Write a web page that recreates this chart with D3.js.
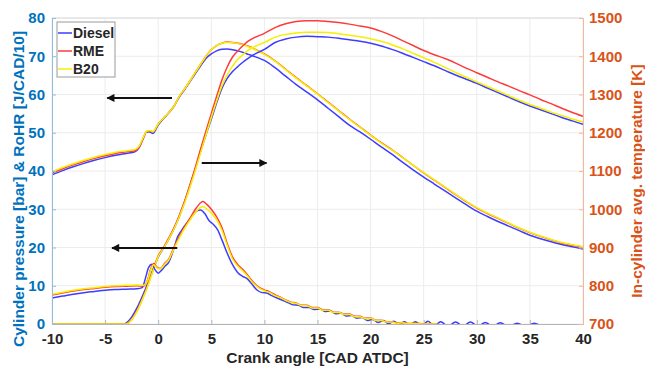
<!DOCTYPE html>
<html>
<head>
<meta charset="utf-8">
<script src="https://cdn.jsdelivr.net/npm/d3@7"></script>
<style>
body { margin: 0; background: #fff; }
text { font-family: "Liberation Sans", Arial, sans-serif; font-weight: bold; }
</style>
</head>
<body>
<script>
// crank angle [CAD ATDC], value pairs
let pressureDiesel = [[-10,39],[-9,40.1],[-8,41.1],[-7,42],[-6,42.8],[-5,43.5],[-4,44.1],[-3,44.6],[-2.2,45],[-1.8,46.1],[-1.4,48.6],[-1.1,50.2],[-0.8,50.2],[-0.5,49.8],[0,52],[0.5,53.7],[1,55.2],[1.5,57],[2,59.4],[2.5,61.3],[3,63.4],[3.5,65.5],[4,67.5],[4.5,69.4],[5,70.6],[5.5,71.4],[6,71.8],[6.5,71.9],[7,71.7],[7.5,71.4],[8,71],[8.5,70.5],[9,70],[9.5,69.5],[10,68.9],[11,67],[12,64.8],[13,62.6],[14,60.6],[15,58.6],[16,56.4],[17,54.2],[18,52],[19,50.2],[20,48.3],[21,46.3],[22,44.4],[23,42.3],[24,40.3],[25,38.4],[26,36.6],[27,34.8],[28,33],[29,31.2],[30,29.5],[31,28.1],[32,26.8],[33,25.6],[34,24.4],[35,23.2],[36,22.3],[37,21.5],[38,20.8],[39,20.2],[40,19.6]];
let pressureRME = [[-10,39.5],[-9,40.6],[-8,41.6],[-7,42.5],[-6,43.3],[-5,44],[-4,44.6],[-3,45],[-2.2,45.3],[-1.8,46.2],[-1.4,48.6],[-1.1,50.3],[-0.8,50.5],[-0.5,50.2],[0,52.3],[0.5,53.8],[1,55.3],[1.5,57],[2,59.6],[2.5,61.5],[3,63.6],[3.5,65.8],[4,67.9],[4.5,70],[5,71.7],[5.5,72.8],[6,73.4],[6.5,73.7],[7,73.6],[7.5,73.4],[8,73.1],[8.5,72.6],[9,72],[9.5,71.3],[10,70.6],[11,68.8],[12,66.6],[13,64.4],[14,62.3],[15,60.2],[16,58],[17,55.8],[18,53.6],[19,51.5],[20,49.4],[21,47.4],[22,45.6],[23,43.6],[24,41.5],[25,39.5],[26,37.6],[27,35.7],[28,33.8],[29,32],[30,30.3],[31,28.9],[32,27.6],[33,26.3],[34,25],[35,23.9],[36,22.9],[37,22],[38,21.2],[39,20.6],[40,20.1]];
let pressureB20 = [[-10,39.8],[-9,40.9],[-8,41.9],[-7,42.8],[-6,43.6],[-5,44.3],[-4,44.9],[-3,45.3],[-2.2,45.6],[-1.8,46.5],[-1.4,48.8],[-1.1,50.4],[-0.8,50.6],[-0.5,50.3],[0,52.3],[0.5,53.8],[1,55.3],[1.5,57],[2,59.6],[2.5,61.5],[3,63.6],[3.5,65.8],[4,67.9],[4.5,70],[5,71.7],[5.5,72.8],[6,73.4],[6.5,73.6],[7,73.5],[7.5,73.3],[8,73],[8.5,72.5],[9,71.9],[9.5,71.2],[10,70.5],[11,68.7],[12,66.5],[13,64.3],[14,62.2],[15,60.1],[16,57.9],[17,55.7],[18,53.5],[19,51.4],[20,49.3],[21,47.3],[22,45.5],[23,43.5],[24,41.5],[25,39.6],[26,37.7],[27,35.8],[28,33.9],[29,32.1],[30,30.4],[31,29],[32,27.7],[33,26.4],[34,25.1],[35,24],[36,23],[37,22.1],[38,21.3],[39,20.7],[40,20.2]];

let tempDiesel = [[-10,700],[-3.3,700],[-2.5,718],[-2,742],[-1.5,772],[-1,805],[-0.5,842],[0,875],[0.5,898],[1,922],[1.5,950],[2,982],[2.5,1020],[3,1062],[3.5,1106],[4,1152],[4.5,1195],[5,1235],[5.5,1278],[6,1316],[6.5,1342],[7,1360],[7.5,1373],[8,1385],[8.5,1395],[9,1404],[10,1418],[11,1436],[12,1445],[13,1450],[14,1452],[15,1451],[16,1450],[17,1447],[18,1443],[19,1439],[20,1434],[21,1427],[22,1418],[23,1408],[24,1397],[25,1386],[26,1375],[27,1363],[28,1351],[29,1340],[30,1329],[31,1317],[32,1305],[33,1293],[34,1281],[35,1270],[36,1260],[37,1250],[38,1240],[39,1231],[40,1222]];
let tempRME = [[-10,700],[-3,700],[-2.5,712],[-2,735],[-1.5,765],[-1,800],[-0.5,840],[0,878],[0.5,900],[1,925],[1.5,952],[2,985],[2.5,1022],[3,1065],[3.5,1110],[4,1158],[4.5,1205],[5,1250],[5.5,1295],[6,1338],[6.5,1372],[7,1398],[7.5,1414],[8,1428],[8.5,1440],[9,1448],[10,1460],[11,1475],[12,1485],[13,1491],[14,1493],[15,1493],[16,1491],[17,1488],[18,1484],[19,1479],[20,1474],[21,1465],[22,1454],[23,1441],[24,1428],[25,1415],[26,1404],[27,1394],[28,1382],[29,1369],[30,1357],[31,1345],[32,1333],[33,1322],[34,1310],[35,1299],[36,1287],[37,1276],[38,1264],[39,1253],[40,1243]];
let tempB20 = [[-10,700],[-3,700],[-2.5,711],[-2,733],[-1.5,763],[-1,798],[-0.5,838],[0,876],[0.5,898],[1,922],[1.5,949],[2,981],[2.5,1017],[3,1058],[3.5,1102],[4,1148],[4.5,1195],[5,1240],[5.5,1283],[6,1322],[6.5,1352],[7,1374],[7.5,1392],[8,1405],[8.5,1416],[9,1424],[10,1436],[11,1450],[12,1457],[13,1461],[14,1463],[15,1463],[16,1462],[17,1459],[18,1455],[19,1451],[20,1446],[21,1439],[22,1430],[23,1420],[24,1408],[25,1396],[26,1384],[27,1371],[28,1358],[29,1345],[30,1333],[31,1321],[32,1309],[33,1297],[34,1285],[35,1274],[36,1264],[37,1254],[38,1245],[39,1236],[40,1228]];

let rohrDiesel = [[-10,6.8],[-9,7.3],[-8,7.8],[-7,8.2],[-6,8.5],[-5,8.8],[-4,9],[-3,9.1],[-2,9.2],[-1.5,9.5],[-1.2,12],[-0.9,14.8],[-0.6,15.6],[-0.3,14.2],[0,13.3],[0.3,14],[0.6,15],[1,16.2],[1.4,19],[1.8,22.6],[2.2,24.5],[2.7,26.4],[3.2,28.2],[3.7,29.7],[4,29.8],[4.4,28.8],[4.8,27],[5.2,26],[5.6,24.6],[6,22],[6.5,18.5],[7,15.5],[7.5,13.4],[8,12.4],[8.4,11.8],[8.8,10.5],[9.3,8.9],[9.8,8.2],[10.2,8.1],[10.7,7.4],[11.2,6.8],[11.7,6.2],[12.2,5.6],[12.7,5],[13.2,4.9],[13.7,4.3],[14.2,4.3],[14.7,3.8],[15.2,3.9],[15.7,3.3],[16.2,3.4],[16.7,2.7],[17.2,2.8],[17.7,2.1],[18.2,2.2],[18.7,1.5],[19.2,1.7],[19.7,0.9],[20.2,1.2],[20.7,0.4],[21.2,0.9],[21.7,0.1],[22.2,0.7],[22.7,-0.1],[23.2,0.6],[23.7,-0.3],[24.2,0.6],[24.8,-0.4],[25.4,0.7],[26,-0.5],[26.6,0.6],[27.3,-0.6],[28,0.5],[28.7,-0.6],[29.4,0.5],[30.1,-0.6],[30.8,0.4],[31.5,-0.6],[32.2,0.3],[33,-0.6],[33.8,0.2],[34.6,-0.6],[35.4,0.2],[36.3,-0.6],[40,-0.6]];
let rohrRME = [[-10,7.6],[-9,8.1],[-8,8.6],[-7,9],[-6,9.3],[-5,9.6],[-4,9.8],[-3,9.9],[-2,10],[-1.4,9.9],[-1,11.5],[-0.7,14.5],[-0.4,15.8],[-0.1,14.8],[0.2,14.5],[0.6,15.8],[1,17],[1.4,19.5],[1.9,22.4],[2.4,25],[3,27.7],[3.5,30],[4,31.7],[4.2,32],[4.6,31.2],[5,30],[5.5,28],[6,25.2],[6.5,21],[7,17.5],[7.5,15.5],[8,14.2],[8.5,12.5],[9,10.8],[9.5,9.6],[10,8.9],[10.5,8.4],[11,7.6],[11.5,7],[12,6.3],[12.5,5.7],[13,5.5],[13.5,4.9],[14,4.9],[14.5,4.3],[15,4.3],[15.5,3.7],[16,3.7],[16.5,3.1],[17,3.1],[17.5,2.6],[18,2.6],[18.5,2],[19,2],[19.5,1.5],[20,1.6],[20.5,1],[21,1],[21.5,0.6],[22,0.6],[22.5,0.3],[23,0.4],[23.5,0.1],[24,0.2],[25,0.05],[26,0],[27,-0.5],[40,-0.5]];
let rohrB20 = [[-10,7.8],[-9,8.3],[-8,8.8],[-7,9.2],[-6,9.5],[-5,9.8],[-4,10],[-3,10.1],[-2,10.2],[-1.4,10.1],[-1,11.3],[-0.7,14.2],[-0.4,15.5],[-0.1,14.6],[0.2,14.4],[0.6,15.6],[1,16.8],[1.4,19.2],[1.9,22],[2.4,24.6],[3,27.2],[3.5,29.2],[4,30.5],[4.2,30.7],[4.6,30],[5,29],[5.5,27.3],[6,24.5],[6.5,20.5],[7,17],[7.5,15.1],[8,13.8],[8.5,12.2],[9,10.5],[9.5,9.4],[10,8.7],[10.5,8.2],[11,7.4],[11.5,6.9],[12,6.2],[12.5,5.6],[13,5.4],[13.5,4.8],[14,4.8],[14.5,4.2],[15,4.2],[15.5,3.6],[16,3.6],[16.5,3],[17,3],[17.5,2.5],[18,2.5],[18.5,1.9],[19,1.9],[19.5,1.4],[20,1.5],[20.5,0.9],[21,0.9],[21.5,0.5],[22,0.5],[22.5,0.2],[23,0.3],[23.5,0.05],[24,0.1],[25,0],[26,0],[27,-0.5],[40,-0.5]];

let fuels = ["Diesel", "RME", "B20"];
let colors = ["#3d3dff", "#ff3a3a", "#f6ef00"];
let xTicks = [-10, -5, 0, 5, 10, 15, 20, 25, 30, 35, 40];
let leftTicks = [0, 10, 20, 30, 40, 50, 60, 70, 80];
let rightTicks = [700, 800, 900, 1000, 1100, 1200, 1300, 1400, 1500];
// arrows: y value on left axis, start and end crank angle
let arrows = [[59.1, 1.3, -4.8], [42.1, 4.1, 10.2], [19.9, 1.8, -4.35]];

let margin = {top: 18, right: 62, bottom: 48, left: 52},
	width = 645 - margin.left - margin.right,
	height = 372 - margin.top - margin.bottom;

let leftColor = "#0072BD", rightColor = "#D95319", dark = "#262626";
let plain = d => String(d);

let x = d3.scaleLinear().domain([-10, 40]).range([0, width]),
	yL = d3.scaleLinear().domain([0, 80]).range([height, 0]),
	yR = d3.scaleLinear().domain([700, 1500]).range([height, 0]);

let svg = d3.select("body").append("svg")
	.attr("width", 645)
	.attr("height", 372);

let g = svg.append("g")
	.attr("transform", "translate(" + margin.left + "," + margin.top + ")");

g.append("defs").append("clipPath").attr("id", "clip")
	.append("rect").attr("width", width).attr("height", height);

// grid
g.selectAll(".vg").data(xTicks).enter().append("line")
	.attr("x1", d => x(d)).attr("x2", d => x(d))
	.attr("y1", 0).attr("y2", height)
	.attr("stroke", "#ececec");
g.selectAll(".hg").data(leftTicks).enter().append("line")
	.attr("x1", 0).attr("x2", width)
	.attr("y1", d => yL(d)).attr("y2", d => yL(d))
	.attr("stroke", "#ececec");
g.append("line").attr("x1", 0).attr("x2", width).attr("y1", 0).attr("y2", 0)
	.attr("stroke", "#dcdcdc");

// curves
let line = (sc) => d3.line().x(d => x(d[0])).y(d => sc(d[1])).curve(d3.curveMonotoneX);
let curves = g.append("g").attr("clip-path", "url(#clip)");
let groups = [
	[pressureDiesel, pressureRME, pressureB20, yL],
	[tempDiesel, tempRME, tempB20, yR],
	[rohrDiesel, rohrRME, rohrB20, yL]
];
groups.forEach(function(grp) {
	for (let i = 0; i < 3; i++) {
		curves.append("path")
			.datum(grp[i])
			.attr("fill", "none")
			.attr("stroke", colors[i])
			.attr("stroke-width", 1.5)
			.attr("d", line(grp[3]));
	}
});

// arrows
let defs = svg.append("defs");
defs.append("marker").attr("id", "head")
	.attr("viewBox", "0 0 10 10").attr("refX", 9).attr("refY", 5)
	.attr("markerWidth", 5).attr("markerHeight", 4).attr("orient", "auto")
	.attr("markerUnits", "strokeWidth")
	.append("path").attr("d", "M0,0L10,5L0,10z").attr("fill", "#111");
g.selectAll(".arrow").data(arrows).enter().append("line")
	.attr("x1", d => x(d[1])).attr("x2", d => x(d[2]))
	.attr("y1", d => yL(d[0])).attr("y2", d => yL(d[0]))
	.attr("stroke", "#111").attr("stroke-width", 2)
	.attr("marker-end", "url(#head)");

// axes
let xAxis = g.append("g").attr("transform", "translate(0," + height + ")")
	.call(d3.axisBottom(x).tickValues(xTicks).tickFormat(plain).tickSize(-4).tickPadding(9));
xAxis.select(".domain").attr("stroke", "#b5b5b5");
xAxis.selectAll(".tick line").attr("stroke", "#b5b5b5");
xAxis.selectAll("text").attr("fill", dark).style("font-size", "15px");

let lAxis = g.append("g")
	.call(d3.axisLeft(yL).tickValues(leftTicks).tickFormat(plain).tickSize(-4).tickPadding(7));
lAxis.select(".domain").attr("stroke", "#8fbde0");
lAxis.selectAll(".tick line").attr("stroke", "#8fbde0");
lAxis.selectAll("text").attr("fill", leftColor).style("font-size", "15px");

let rAxis = g.append("g").attr("transform", "translate(" + width + ",0)")
	.call(d3.axisRight(yR).tickValues(rightTicks).tickFormat(plain).tickSize(-4).tickPadding(6));
rAxis.select(".domain").attr("stroke", "#f1b9a0");
rAxis.selectAll(".tick line").attr("stroke", "#f1b9a0");
rAxis.selectAll("text").attr("fill", rightColor).style("font-size", "15px");

// titles
svg.append("text")
	.attr("x", margin.left + width / 2).attr("y", 363)
	.attr("text-anchor", "middle").attr("fill", dark)
	.style("font-size", "15.5px")
	.text("Crank angle [CAD ATDC]");
svg.append("text")
	.attr("transform", "translate(24,189) rotate(-90)")
	.attr("text-anchor", "middle").attr("fill", leftColor)
	.style("font-size", "15.5px")
	.text("Cylinder pressure [bar] & RoHR [J/CAD/10]");
svg.append("text")
	.attr("transform", "translate(642,181) rotate(-90)")
	.attr("text-anchor", "middle").attr("fill", rightColor)
	.style("font-size", "15.5px")
	.text("In-cylinder avg. temperature [K]");

// legend
let leg = svg.append("g").attr("transform", "translate(57,22)");
leg.append("rect").attr("width", 58).attr("height", 55)
	.attr("fill", "#fff").attr("stroke", "#9a9a9a").attr("stroke-width", 1);
fuels.forEach(function(f, i) {
	let yy = 11 + i * 18;
	leg.append("line").attr("x1", 1).attr("x2", 15).attr("y1", yy).attr("y2", yy)
		.attr("stroke", colors[i]).attr("stroke-width", 1.5);
	leg.append("text").attr("x", 16).attr("y", yy + 5)
		.attr("fill", dark).style("font-size", "14px").text(f);
});
</script>
</body>
</html>
